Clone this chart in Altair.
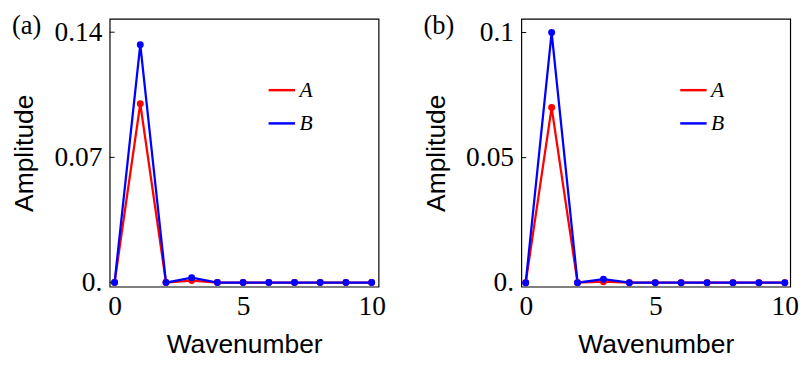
import altair as alt
import pandas as pd

# ---- data ----
wavenumber = list(range(11))
a_A = [0.0, 0.100, 0.0, 0.0011, 0.0, 0.0, 0.0, 0.0, 0.0, 0.0, 0.0]
a_B = [0.0, 0.133, 0.0, 0.0027, 0.0, 0.0, 0.0, 0.0, 0.0, 0.0, 0.0]
b_A = [0.0, 0.070, 0.0, 0.0004, 0.0, 0.0, 0.0, 0.0, 0.0, 0.0, 0.0]
b_B = [0.0, 0.100, 0.0, 0.0014, 0.0, 0.0, 0.0, 0.0, 0.0, 0.0, 0.0]
series_names = ["A", "B"]
series_colors = ["#ff0000", "#0000ff"]
x_ticks = [0, 5, 10]
a_yticks = [0, 0.07, 0.14]
b_yticks = [0, 0.05, 0.1]
panel_labels = ["(a)", "(b)"]

SERIF = "Liberation Serif"
SANS = "Liberation Sans"


def panel(A, B, yticks, ydom, xdom, label):
    df = pd.DataFrame({
        "k": wavenumber + wavenumber,
        "amp": A + B,
        "series": ["A"] * len(A) + ["B"] * len(B),
    })
    x = alt.X("k:Q", scale=alt.Scale(domain=xdom, nice=False, zero=False),
              axis=alt.Axis(values=x_ticks, title="Wavenumber", format="d"))
    y = alt.Y("amp:Q", scale=alt.Scale(domain=ydom, nice=False, zero=False),
              axis=alt.Axis(values=yticks, title="Amplitude", format="~g",
                            labelExpr="datum.value == 0 ? '0.' : datum.label"))
    color = alt.Color("series:N",
                      scale=alt.Scale(domain=series_names, range=series_colors),
                      legend=alt.Legend(title=None, orient="none", legendX=161, legendY=58,
                                        symbolType="stroke", symbolSize=729,
                                        symbolStrokeWidth=2.5, labelFont=SERIF,
                                        labelFontStyle="italic", labelFontSize=22,
                                        labelColor="black", rowPadding=8, padding=0,
                                        labelOffset=3))
    base = alt.Chart(df)
    lines = base.mark_line(strokeWidth=2.3).encode(x=x, y=y, color=color)
    pts = base.mark_circle(size=50, opacity=1).encode(x=x, y=y, color=color)
    ticks = alt.Chart(pd.DataFrame({"t": yticks})).mark_rule(color="black", strokeWidth=1).encode(
        y=alt.Y("t:Q", scale=alt.Scale(domain=ydom, nice=False, zero=False)),
        x=alt.value(0), x2=alt.value(5))
    lab = alt.Chart(pd.DataFrame({"l": [label]})).mark_text(
        font=SERIF, fontSize=27, align="left", baseline="top", color="black"
    ).encode(text="l:N", x=alt.value(-100), y=alt.value(-5))
    return alt.layer(ticks, lines, pts, lab).properties(width=275, height=274)


pa = panel(a_A, a_B, a_yticks, [-0.0023, 0.1475], [-0.19, 10.27], panel_labels[0])
pb = panel(b_A, b_B, b_yticks, [-0.0016, 0.1055], [-0.17, 10.21], panel_labels[1])

chart = alt.hconcat(pa, pb, spacing=36).resolve_scale(
    y="independent", x="independent", color="independent"
).properties(
    padding={"left": 2, "top": 0, "right": 0, "bottom": 0}
).configure_view(stroke="black", strokeWidth=1.2).configure_axis(
    grid=False, ticks=False, domain=False,
    labelFont=SERIF, labelFontSize=28, labelColor="black", labelPadding=6,
    titleFont=SANS, titleFontSize=27, titleFontWeight="normal", titleColor="black",
).configure_axisY(titlePadding=16, labelPadding=8).configure_axisX(titlePadding=12)

chart.save("out.html", embed_options={"renderer": "svg", "actions": False})
